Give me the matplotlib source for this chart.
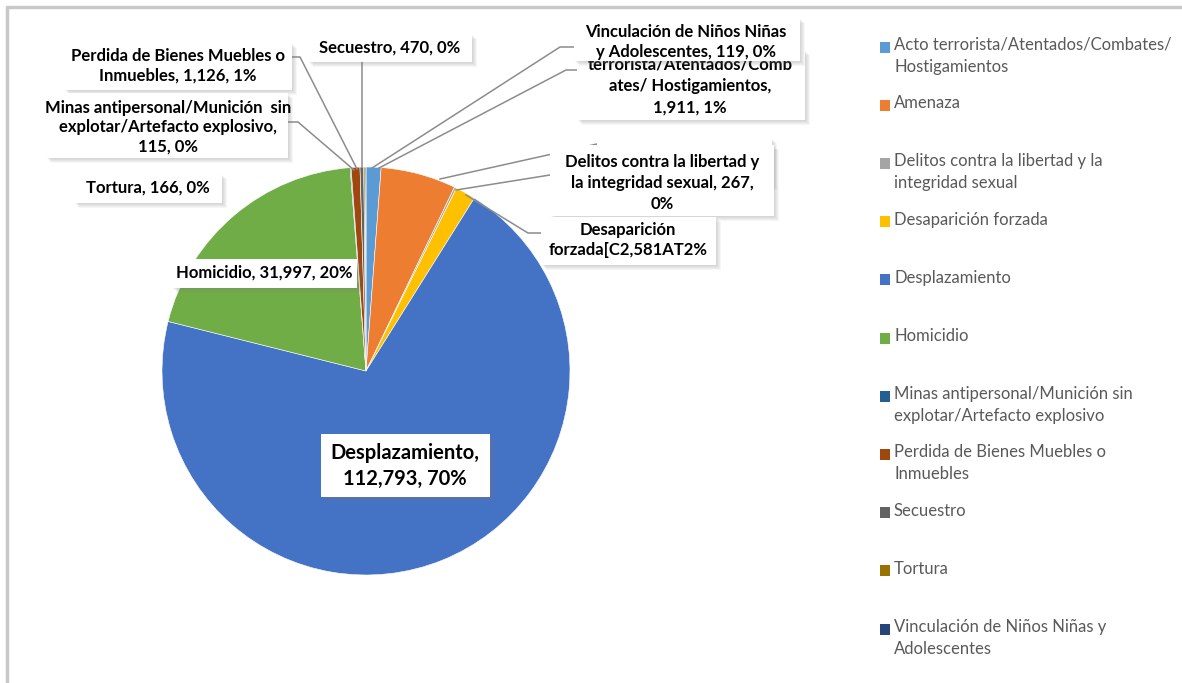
import matplotlib.pyplot as plt
from matplotlib.patches import Rectangle

# hechos victimizantes: number of people per category
categorias = ['Acto terrorista/Atentados/Combates/\nHostigamientos',
              'Amenaza',
              'Delitos contra la libertad y la\nintegridad sexual',
              'Desaparición forzada',
              'Desplazamiento',
              'Homicidio',
              'Minas antipersonal/Munición sin\nexplotar/Artefacto explosivo',
              'Perdida de Bienes Muebles o\nInmuebles',
              'Secuestro',
              'Tortura',
              'Vinculación de Niños Niñas y\nAdolescentes']
valores = [1911, 9600, 267, 2581, 112793, 31997, 115, 1126, 470, 166, 119]
colores = ['#5B9BD5', '#ED7D31', '#A5A5A5', '#FFC000', '#4472C4', '#70AD47',
           '#255E91', '#9E480E', '#636363', '#997300', '#264478']

total = sum(valores)
pct = [round(100 * v / total) for v in valores]

plt.rcParams['font.family'] = ['Lato', 'DejaVu Sans']

fig = plt.figure(figsize=(11.82, 6.83), dpi=100)
ax = fig.add_axes([0, 0, 1, 1])

# pie drawn in pixel-like coords, y axis flipped below
wedges, _ = ax.pie(valores, colors=colores, startangle=-90, counterclock=True,
                   center=(366, 371), radius=204,
                   wedgeprops=dict(linewidth=0.4, edgecolor='white'))
ax.set_xlim(0, 1182)
ax.set_ylim(683, 0)
ax.axis('off')

# outer frame
ax.plot([7, 7, 1182], [683, 7, 7], color='#c8c8c8', lw=2.5, solid_capstyle='butt')

lc = '#8c8c8c'
def leader(xs, ys):
    ax.plot(xs, ys, color=lc, lw=1.1, zorder=3)

def caja(x0, y0, x1, y1, z):
    # soft drop shadow, then the white box
    for k in range(1, 6):
        ax.add_patch(Rectangle((x0 + k, y0 + k), x1 - x0, y1 - y0, facecolor='#808080',
                               edgecolor='none', alpha=0.07, zorder=z))
    ax.add_patch(Rectangle((x0, y0), x1 - x0, y1 - y0, facecolor='white',
                           edgecolor='none', zorder=z + 0.1))

def etiqueta(cx, cy, s, box, z, fs=12, ls=1.4):
    caja(*box, z)
    ax.text(cx, cy, s, ha='center', va='center', fontsize=fs, fontweight='bold',
            color='black', linespacing=ls, zorder=z + 0.2)

# leader lines
leader([372, 560, 574], [168, 47, 47])
leader([379, 566, 580], [168, 70, 70])
leader([362, 362], [167, 62])
leader([357, 300, 292], [169, 57, 57])
leader([354, 298, 284], [170, 122, 122])
leader([440, 597], [179, 144])
leader([456, 550], [190, 175])
leader([466, 528, 543], [195, 233, 233])

v = valores
p = pct
# label boxes, drawn back to front
caja(597, 138, 772, 185, 4)
etiqueta(690, 86, f'terrorista/Atentados/Comb\nates/ Hostigamientos,\n{v[0]:,}, {p[0]}%',
         (577, 50, 805, 120), 5)
etiqueta(686, 42, f'Vinculación de Niños Niñas\ny Adolescentes, {v[10]}, {p[10]}%',
         (574, 18, 800, 61), 6, ls=1.3)
etiqueta(390, 48, f'Secuestro, {v[8]}, {p[8]}%', (308, 34, 472, 62), 5)
etiqueta(178, 66, f'Perdida de Bienes Muebles o\nInmuebles, {v[7]:,}, {p[7]}%',
         (64, 43, 292, 90), 5, ls=1.25)
etiqueta(168, 127, f'Minas antipersonal/Munición  sin\nexplotar/Artefacto explosivo,\n{v[6]}, {p[6]}%',
         (46, 93, 288, 158), 5, ls=1.25)
etiqueta(148, 188, f'Tortura, {v[9]}, {p[9]}%', (74, 174, 222, 203), 5)
etiqueta(264, 273, f'Homicidio, {v[5]:,}, {p[5]}%', (172, 259, 357, 288), 5)
etiqueta(405, 466, f'Desplazamiento,\n{v[4]:,}, {p[4]}%', (321, 434, 490, 497), 5, fs=14.5, ls=1.35)
etiqueta(662, 183, f'Delitos contra la libertad y\nla integridad sexual, {v[2]},\n{p[2]}%',
         (550, 145, 774, 216), 5)
etiqueta(628, 240, f'Desaparición\nforzada[C{v[3]:,}AT{p[3]}%', (541, 217, 716, 265), 6, ls=1.3)

# legend
for i, (lab, col) in enumerate(zip(categorias, colores)):
    y = 47 + 58.2 * i
    ax.add_patch(Rectangle((880, y - 5.5), 10, 11, facecolor=col, edgecolor='none'))
    ax.text(894, y - 10, lab, ha='left', va='top', fontsize=12, color='#595959',
            linespacing=1.45)

fig.savefig('out.png', dpi=100)
